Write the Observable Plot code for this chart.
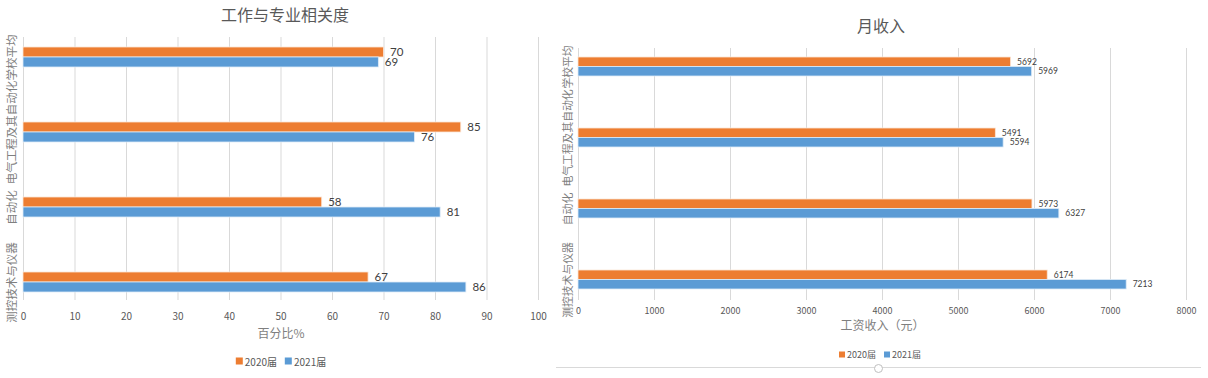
<!DOCTYPE html>
<html>
<head>
<meta charset="utf-8">
<script src="https://cdn.jsdelivr.net/npm/d3@7"></script>
<script src="https://cdn.jsdelivr.net/npm/@observablehq/plot@0.6"></script>
<style>
  html, body { margin: 0; padding: 0; background: #fff; }
  body { width: 1208px; height: 378px; position: relative; overflow: hidden;
         font-family: "Noto Sans CJK SC", "Noto Sans", sans-serif; }
  .abs { position: absolute; }
  .title { color: #595959; font-size: 16px; text-align: center; white-space: nowrap; transform: translate(-50%, -50%); }
  .legend { color: #595959; white-space: nowrap; transform: translate(-50%, -50%); display: flex; align-items: center; gap: 8px; }
  .legend span.sw { display: inline-block; margin-right: 2px; }
  .legend .item { display: flex; align-items: center; }
</style>
</head>
<body>
<div id="left" class="abs" style="left:0;top:0;"></div>
<div id="right" class="abs" style="left:553px;top:0;"></div>
<div class="abs title" style="left:285px;top:14px;">工作与专业相关度</div>
<div class="abs title" style="left:881px;top:25px;">月收入</div>
<div id="legL" class="abs legend" style="left:281px;top:361px;font-size:10px;"></div>
<div id="legR" class="abs legend" style="left:880px;top:354px;font-size:9px;"></div>
<div class="abs" style="left:556px;top:367px;width:645px;height:0;border-top:1px solid #d9d9d9;"></div>
<div class="abs" style="left:874px;top:364px;width:7px;height:7px;border:1px solid #bfbfbf;border-radius:50%;background:#fff;"></div>
<script>
const categories = ["学校平均", "电气工程及其自动化", "自动化", "测控技术与仪器"];
const seriesNames = ["2020届", "2021届"];
const seriesColors = ["#ED7D31", "#5B9BD5"];
const relevance2020 = [70, 85, 58, 67];
const relevance2021 = [69, 76, 81, 86];
const income2020 = [5692, 5491, 5973, 6174];
const income2021 = [5969, 5594, 6327, 7213];
const relevanceTicks = [0, 10, 20, 30, 40, 50, 60, 70, 80, 90, 100];
const incomeTicks = [0, 1000, 2000, 3000, 4000, 5000, 6000, 7000, 8000];

const FONT = "'Noto Sans CJK SC', 'Noto Sans', sans-serif";
const NUMFONT = "Lato, 'Liberation Sans', sans-serif";

function makePanel(o) {
  const rowsA = categories.map((c, i) => ({category: c, value: o.a[i]}));
  const rowsB = categories.map((c, i) => ({category: c, value: o.b[i]}));
  const n = categories.length;
  const step = (o.yRange[1] - o.yRange[0]) / n;
  const pi = 1 - o.bw / step;
  return Plot.plot({
    width: o.width, height: o.height,
    marginLeft: o.ml, marginRight: o.mr, marginTop: o.mt, marginBottom: o.mb,
    style: {fontFamily: FONT, fontSize: o.tickFont + "px", color: "#595959", background: "transparent"},
    x: {domain: [o.ticks[0], o.ticks[o.ticks.length - 1]], ticks: o.ticks, tickSize: 0, tickPadding: o.tickPadding, tickFormat: d => String(d), label: null},
    y: {domain: categories, range: o.yRange, paddingInner: pi, paddingOuter: pi / 2, axis: null},
    marks: [
      Plot.ruleX(o.ticks, {stroke: "#d9d9d9", strokeWidth: 1}),
      Plot.barX(rowsA, {x: "value", y: "category", fill: seriesColors[0], insetBottom: o.bw / 2, stroke: "#fbe5d6", strokeWidth: 0.8}),
      Plot.barX(rowsB, {x: "value", y: "category", fill: seriesColors[1], insetTop: o.bw / 2, stroke: "#deebf7", strokeWidth: 0.8}),
      Plot.text(rowsA, {x: "value", y: "category", text: d => String(d.value), dx: o.labelDx, dy: -o.bw / 4, textAnchor: "start", lineAnchor: "middle", fill: "#404040", fontSize: o.valueFont, fontFamily: NUMFONT}),
      Plot.text(rowsB, {x: "value", y: "category", text: d => String(d.value), dx: o.labelDx, dy: o.bw / 4, textAnchor: "start", lineAnchor: "middle", fill: "#404040", fontSize: o.valueFont, fontFamily: NUMFONT}),
      Plot.text(categories, {y: d => d, frameAnchor: "left", dx: -o.catDx, rotate: -90, textAnchor: "middle", lineAnchor: "middle", fill: "#7f7f7f", fontSize: o.catFont}),
      Plot.text([o.xLabel], {frameAnchor: "bottom", dy: o.xLabelDy, textAnchor: "middle", lineAnchor: "middle", fill: "#7f7f7f", fontSize: o.xLabelFont})
    ]
  });
}

document.getElementById("left").append(makePanel({
  a: relevance2020, b: relevance2021, ticks: relevanceTicks,
  width: 550, height: 345, ml: 23, mr: 12, mt: 37, mb: 45,
  yRange: [18.9, 320.9], bw: 20, tickFont: 10, tickPadding: 12,
  labelDx: 6, valueFont: 11.5, catDx: 11, catFont: 11.5,
  xLabel: "百分比%", xLabelDy: 34, xLabelFont: 12
}));

document.getElementById("right").append(makePanel({
  a: income2020, b: income2021, ticks: incomeTicks,
  width: 655, height: 345, ml: 25, mr: 22, mt: 48, mb: 45,
  yRange: [30.1, 314.9], bw: 19, tickFont: 9, tickPadding: 7,
  labelDx: 6, valueFont: 8.5, catDx: 10, catFont: 10.8,
  xLabel: "工资收入（元）", xLabelDy: 26, xLabelFont: 12
}));

function legend(el, size) {
  seriesNames.forEach((s, i) => {
    const item = document.createElement("div");
    item.className = "item";
    const sw = document.createElement("span");
    sw.className = "sw";
    sw.style.width = size + "px";
    sw.style.height = size + "px";
    sw.style.background = seriesColors[i];
    item.append(sw, document.createTextNode(s));
    el.append(item);
  });
}
legend(document.getElementById("legL"), 7);
legend(document.getElementById("legR"), 6);
</script>
</body>
</html>
